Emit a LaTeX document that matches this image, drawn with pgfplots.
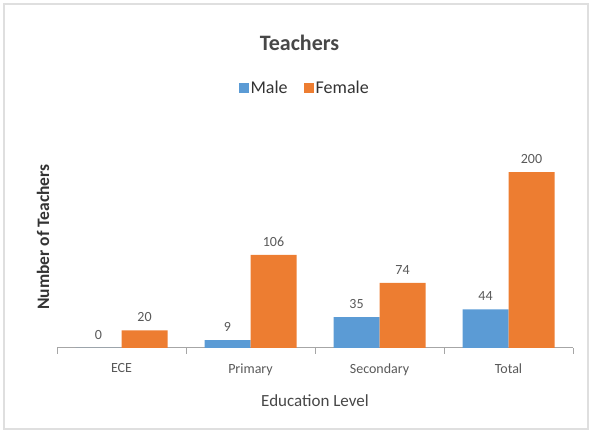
\documentclass[border=0pt]{standalone}
\usepackage{pgfplots}
\pgfplotsset{compat=1.18}
\usepackage{fontspec}
\setmainfont{Carlito}
\definecolor{mblue}{HTML}{5B9BD5}
\definecolor{forange}{HTML}{ED7D31}
\definecolor{txt}{HTML}{595959}
\definecolor{axg}{HTML}{A6A6A6}
\begin{document}
\begin{tikzpicture}[x=1pt,y=1pt]
\path (0,0) rectangle (591,433);
\draw[gray!25,line width=1.2pt] (4,4) rectangle (588,429);
\begin{axis}[
  at={(57pt,85pt)}, anchor=south west,
  scale only axis, width=516pt, height=211pt,
  xmin=-0.5, xmax=3.5, ymin=0, ymax=240,
  axis x line*=bottom, axis y line=none,
  x axis line style={axg, line width=1pt, -},
  xtick={0,1,2,3},
  xticklabels={ECE,Primary,Secondary,Total},
  major tick length=0pt,
  minor xtick={-0.5,0.5,1.5,2.5,3.5},
  minor tick length=6pt,
  tick align=outside,
  minor tick style={axg, line width=1pt},
  xticklabel style={font=\fontsize{14}{16}\selectfont, text=txt, yshift=-12pt},
  xlabel={Education Level},
  xlabel style={font=\fontsize{17}{19}\selectfont, text=txt!80!black, yshift=-12pt},
  title={\textbf{Teachers}},
  title style={font=\fontsize{22}{24}\selectfont, text=txt!80!black, at={(axis description cs:0.470,1.42)}, anchor=center},
  ybar=0pt, bar width=46pt,
  nodes near coords,
  /pgf/number format/assume math mode=true,
  every node near coord/.append style={font=\fontsize{14}{16}\selectfont, text=txt, yshift=5pt},
  legend columns=2,
  legend style={at={(axis description cs:0.48,1.232)}, anchor=center, draw=none, fill=none,
    font=\fontsize{18}{20}\selectfont, text=black!80, /tikz/every even column/.append style={column sep=14pt}},
  legend image code/.code={\fill[#1] (0pt,-5pt) rectangle (10pt,5pt);},
  clip=false,
]
\addplot[fill=mblue, draw=none] coordinates {(0,0) (1,9) (2,35) (3,44)};
\addplot[fill=forange, draw=none] coordinates {(0,20) (1,106) (2,74) (3,200)};
\legend{Male,Female}
\end{axis}
\node[rotate=90, font=\fontsize{17.5}{19}\selectfont\bfseries, text=black!80] at (43,196) {Number of Teachers};
\end{tikzpicture}
\end{document}
